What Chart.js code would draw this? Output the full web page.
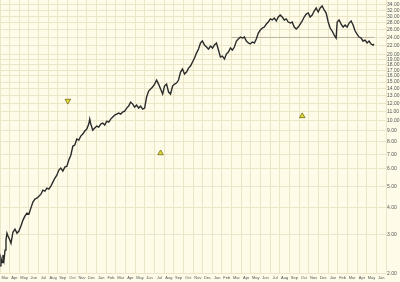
<!DOCTYPE html>
<html>
<head>
<meta charset="utf-8">
<script src="https://cdn.jsdelivr.net/npm/chart.js@4.4.1/dist/chart.umd.min.js"></script>
<style>
  html, body { margin: 0; padding: 0; background: #fefce9; }
  #wrap { width: 400px; height: 282px; }
</style>
</head>
<body>
<div id="wrap"><canvas id="stockChart"></canvas></div>
<script>
// Eixo X: meses (Mar do ano 1 até Jun do ano 4), posições em meses desde o início
const monthLabels = [
  'Mar','Apr','May','Jun','Jul','Aug','Sep','Oct','Nov','Dec',
  'Jan','Feb','Mar','Apr','May','Jun','Jul','Aug','Sep','Oct','Nov','Dec',
  'Jan','Feb','Mar','Apr','May','Jun','Jul','Aug','Sep','Oct','Nov','Dec',
  'Jan','Feb','Mar','Apr','May','Jun'
];

// Eixo Y (log): valores dos rótulos
const priceTicks = [2,3,4,5,6,7,8,9,10,11,12,13,14,15,16,17,18,19,20,22,24,26,28,30,32,34];

// Série de preços
const dates = [
  0.00,0.10,0.21,0.31,0.41,0.52,0.62,0.72,0.83,1.03,1.14,1.34,1.55,1.76,1.96,2.17,2.38,2.58,2.79,3.00,
  3.20,3.41,3.62,3.82,4.03,4.24,4.44,4.65,4.86,5.06,5.27,5.48,5.68,5.89,6.10,6.30,6.51,6.72,6.93,7.13,
  7.34,7.55,7.75,7.96,8.17,8.37,8.58,8.79,8.99,9.20,9.30,9.41,9.61,9.82,10.03,10.23,10.44,10.65,10.85,11.06,
  11.27,11.47,11.68,11.89,12.09,12.30,12.51,12.71,12.92,13.13,13.33,13.54,13.75,13.95,14.16,14.37,14.57,14.78,14.99,15.19,
  15.40,15.61,15.81,16.02,16.23,16.43,16.64,16.85,17.05,17.26,17.47,17.67,17.88,18.09,18.29,18.50,18.71,18.91,19.12,19.33,
  19.54,19.74,19.95,20.16,20.36,20.57,20.78,20.98,21.19,21.40,21.60,21.81,22.02,22.22,22.43,22.64,22.84,23.05,23.26,23.46,
  23.67,23.88,24.08,24.29,24.50,24.70,24.91,25.12,25.32,25.53,25.74,25.94,26.15,26.36,26.56,26.77,26.98,27.18,27.39,27.60,
  27.80,28.01,28.22,28.42,28.63,28.84,29.04,29.25,29.46,29.66,29.87,30.08,30.28,30.49,30.70,30.90,31.11,31.32,31.52,31.73,
  31.94,32.14,32.35,32.56,32.76,32.97,33.18,33.38,33.59,33.80,34.01,34.21,34.42,34.63,34.83,34.94,35.14,35.35,35.56,35.76,
  35.97,36.18,36.38,36.59,36.80,37.00,37.21,37.42,37.62,37.83,38.04,38.24,38.45,38.66,38.76
];
const closes = [
  2.16,2.34,2.24,2.42,2.29,2.55,2.83,3.05,2.96,2.83,2.74,3.08,3.18,3.05,3.12,3.29,3.50,3.65,3.77,3.73,
  3.97,4.23,4.37,4.41,4.50,4.60,4.80,4.75,4.90,4.85,5.01,5.22,5.44,5.62,5.93,6.06,5.87,6.12,6.18,6.59,
  6.94,7.64,7.72,8.22,8.13,8.49,8.67,8.95,9.14,9.63,10.15,9.63,9.04,9.23,9.43,9.33,9.63,9.73,9.53,9.93,
  9.83,10.15,10.37,10.59,10.70,10.82,10.70,10.93,11.04,11.40,11.64,12.14,11.89,11.52,11.77,11.40,11.64,11.28,11.40,12.81,
  13.63,13.93,14.22,14.68,15.32,14.68,13.93,13.22,14.38,14.68,13.50,13.22,14.38,14.68,14.84,15.32,16.66,17.20,16.32,16.66,
  17.38,17.75,18.52,19.32,20.36,21.24,22.64,23.12,22.16,21.70,21.24,21.93,21.47,22.16,22.64,21.02,19.52,19.73,19.12,20.15,
  20.58,21.47,21.02,21.70,23.12,23.61,24.11,23.86,24.11,23.12,22.64,22.40,22.88,22.64,23.61,25.15,25.96,26.51,26.79,27.65,
  28.24,29.16,28.85,29.46,28.55,29.78,30.41,29.78,28.85,29.16,28.24,27.94,28.24,26.79,26.23,26.79,27.65,28.55,29.78,30.73,
  31.06,29.78,30.41,31.72,32.74,31.39,32.74,33.44,32.06,31.06,28.24,26.51,25.69,24.62,23.86,28.24,28.85,27.65,26.79,27.36,
  26.79,27.94,28.55,27.36,25.69,24.88,24.11,23.86,23.12,23.36,22.64,23.12,22.40,22.16,22.40
];

// Sinais (triângulos) e linha horizontal de suporte
const sellX = [7.03];
const sellY = [12.3];
const buyX = [16.64, 31.32];
const buyY = [7.09, 10.48];
const levelX = [24.0, 38.8];
const levelY = [24.0, 24.0];

const bgColor = '#fefce9';
const gridColor = '#ebe6c8';

const zip = (xs, ys) => xs.map((x, i) => ({ x: x, y: ys[i] }));

const bgPlugin = {
  id: 'bg',
  beforeDraw(chart) {
    const ctx = chart.ctx;
    ctx.save();
    ctx.fillStyle = bgColor;
    ctx.fillRect(0, 0, chart.width, chart.height);
    ctx.restore();
  }
};

document.addEventListener('DOMContentLoaded', function() {
  const ctx = document.getElementById('stockChart').getContext('2d');
  new Chart(ctx, {
    type: 'line',
    data: {
      datasets: [{
        data: zip(levelX, levelY),
        borderColor: '#bdb39a',
        borderWidth: 1,
        pointRadius: 0,
        order: 3
      }, {
        data: zip(dates, closes),
        borderColor: '#2b2b2b',
        borderWidth: 1.4,
        pointRadius: 0,
        tension: 0,
        order: 2
      }, {
        data: zip(sellX, sellY),
        showLine: false,
        pointStyle: 'triangle',
        rotation: 180,
        pointRadius: 3.2,
        backgroundColor: '#e6dc2a',
        borderColor: '#6e6a22',
        borderWidth: 0.8,
        order: 1
      }, {
        data: zip(buyX, buyY),
        showLine: false,
        pointStyle: 'triangle',
        pointRadius: 3.2,
        backgroundColor: '#e6dc2a',
        borderColor: '#6e6a22',
        borderWidth: 0.8,
        order: 1
      }]
    },
    options: {
      responsive: true,
      maintainAspectRatio: false,
      animation: false,
      layout: { padding: 0, autoPadding: false },
      plugins: {
        legend: { display: false },
        tooltip: { enabled: false }
      },
      scales: {
        x: {
          type: 'linear',
          min: 0,
          max: 40,
          afterBuildTicks: function(scale) {
            const t = [];
            for (let i = 0; i <= 80; i++) t.push({ value: i / 2 });
            scale.ticks = t;
          },
          afterFit: function(scale) {
            scale.paddingLeft = 0;
            scale.paddingRight = 0;
          },
          ticks: {
            autoSkip: false,
            maxRotation: 0,
            padding: 2,
            color: '#555',
            font: { family: 'Liberation Sans', size: 4 },
            callback: function(value) {
              if (Number.isInteger(value)) return '';
              return monthLabels[Math.floor(value)];
            }
          },
          grid: {
            drawTicks: false,
            color: ctx => Number.isInteger(ctx.tick.value) ? gridColor : 'rgba(0,0,0,0)',
            lineWidth: 1
          },
          border: { display: false }
        },
        y: {
          type: 'logarithmic',
          position: 'right',
          min: 2,
          max: 35.62,
          afterBuildTicks: function(scale) {
            scale.ticks = priceTicks.map(v => ({ value: v }));
          },
          afterFit: function(scale) {
            scale.paddingTop = 0;
            scale.paddingBottom = 0;
            scale.width = 14;
          },
          ticks: {
            autoSkip: false,
            padding: 1,
            color: '#555',
            font: { family: 'Liberation Sans', size: 5 },
            callback: value => Number(value).toFixed(2)
          },
          grid: {
            drawTicks: false,
            color: gridColor,
            lineWidth: 1
          },
          border: { display: false }
        }
      }
    },
    plugins: [bgPlugin]
  });
});
</script>
</body>
</html>
